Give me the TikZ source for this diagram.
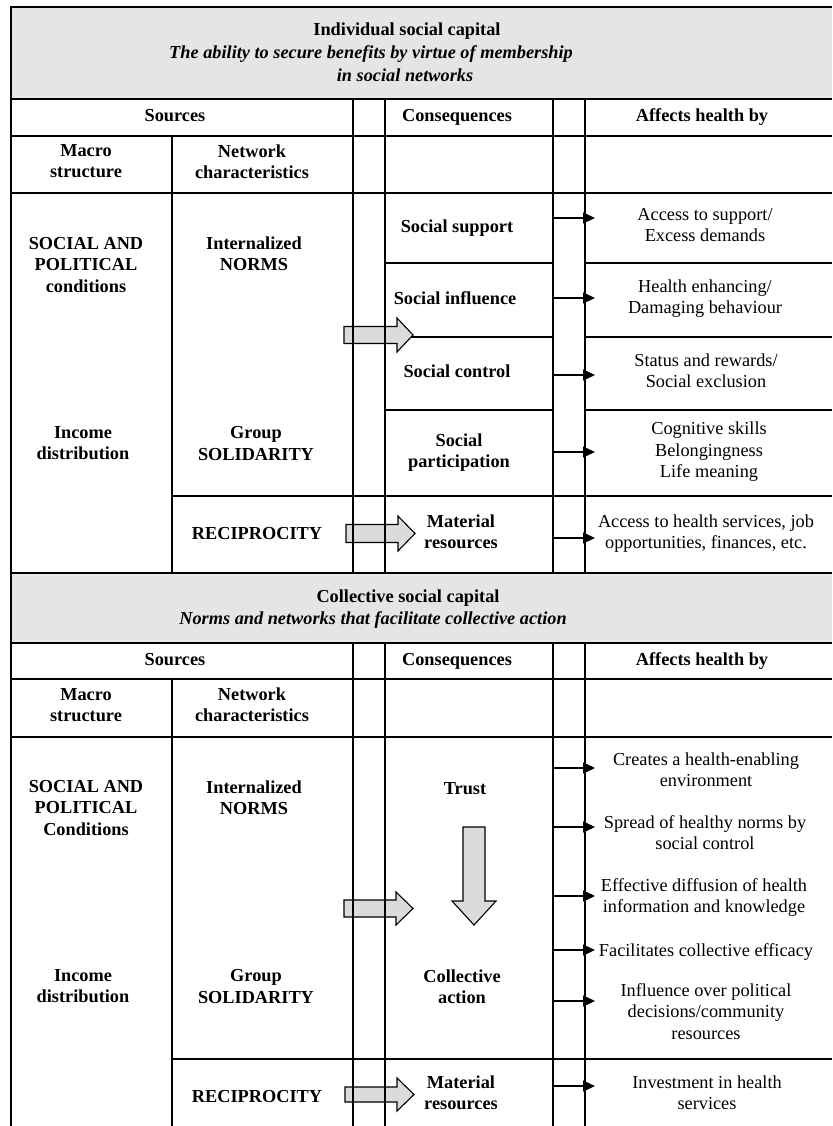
\documentclass[tikz,border=0pt]{standalone}
\usepackage{fontspec}
\setmainfont{Liberation Serif}
\usetikzlibrary{arrows.meta}
\newcommand\figsz{\fontsize{18.3}{21.3}\selectfont}
\definecolor{hdr}{gray}{0.9}
\definecolor{arrfill}{gray}{0.86}
\begin{document}
\begin{tikzpicture}[x=1pt,y=-1pt,
  tl/.style={line width=2pt},
  txt/.style={inner sep=0pt, align=center, execute at begin node=\strut, execute at end node=\strut},
  bt/.style={txt, font=\figsz\bfseries},
  rt/.style={txt, font=\figsz},
  it/.style={txt, font=\figsz\bfseries\itshape},
  sarr/.style={line width=1.3pt, -{Triangle[length=12pt,width=11pt]}},
  barr/.style={draw=black, line width=1.1pt, fill=arrfill, line join=miter},
]
\useasboundingbox (0,0) rectangle (832,1126);
% gray header fills
\fill[hdr] (11,7) rectangle (832,99);
\fill[hdr] (11,573) rectangle (832,643);
% outer border
\draw[tl] (832,7) -- (11,7) -- (11,1126);
% full horizontal lines
\foreach \y in {99,136,193,573,643,679,737}
  \draw[tl] (11,\y) -- (832,\y);
% partial horizontal lines
\foreach \y in {263,337,410} {
  \draw[tl] (385,\y) -- (553,\y);
  \draw[tl] (585,\y) -- (832,\y);
}
\draw[tl] (172,496) -- (832,496);
\draw[tl] (172,1059) -- (832,1059);
% big gray arrows
\draw[barr] (344,326.5) -- (397,326.5) -- (397,318) -- (413,335) -- (397,352) -- (397,343.5) -- (344,343.5) -- cycle;
\draw[barr] (346,524.5) -- (398,524.5) -- (398,516) -- (415,533.5) -- (398,551) -- (398,542.5) -- (346,542.5) -- cycle;
\draw[barr] (344,900) -- (396,900) -- (396,892) -- (413,908.5) -- (396,925) -- (396,917) -- (344,917) -- cycle;
\draw[barr] (345,1087) -- (397,1087) -- (397,1078) -- (414,1094.5) -- (397,1111) -- (397,1102) -- (345,1102) -- cycle;
\draw[barr] (463,827) -- (485,827) -- (485,901) -- (496,901) -- (474,925) -- (452,901) -- (463,901) -- cycle;
% vertical lines
\draw[tl] (172,136) -- (172,573);
\draw[tl] (172,679) -- (172,1126);
\foreach \x in {353,385,553,585} {
  \draw[tl] (\x,99) -- (\x,573);
  \draw[tl] (\x,643) -- (\x,1126);
}
% small arrows
\foreach \y in {218,298,375,452,538,768,827,896,950,1001,1086}
  \draw[sarr] (553,\y) -- (595,\y);

% ---- Section 1 texts
\node[bt] (h1a) at (407,31) {Individual social capital};
\node[it] (h1b) at (371,54) {The ability to secure benefits by virtue of membership};
\node[it] (h1c) at (405,77) {in social networks};
\node[bt] (src1) at (175,117.5) {Sources};
\node[bt] (cons1) at (457,117.5) {Consequences};
\node[bt] (aff1) at (702,117.5) {Affects health by};
\node[bt] (mac1) at (86,164.5) {Macro\\structure};
\node[bt] (net1) at (252,164.5) {Network\\characteristics};
\node[bt] (spc1) at (86,268) {SOCIAL AND\\POLITICAL\\conditions};
\node[bt] (nrm1) at (254,257) {Internalized\\NORMS};
\node[bt] (inc1) at (83,446.5) {Income\\distribution};
\node[bt] (sol1) at (256,446.5) {Group\\SOLIDARITY};
\node[bt] (rec1) at (257,535) {RECIPROCITY};
\node[bt] (ss) at (457,228) {Social support};
\node[bt] (si) at (455,300) {Social influence};
\node[bt] (sc) at (457,373) {Social control};
\node[bt] (sp) at (459,453.5) {Social\\participation};
\node[bt] (mr1) at (461,535) {Material\\resources};
\node[rt] (a1) at (705,228) {Access to support/\\Excess demands};
\node[rt] (a2) at (705,300) {Health enhancing/\\Damaging behaviour};
\node[rt] (a3) at (706,373.5) {Status and rewards/\\Social exclusion};
\node[rt] (a4) at (709,453) {Cognitive skills\\Belongingness\\Life meaning};
\node[rt] (a5) at (706,534.5) {Access to health services, job\\opportunities, finances, etc.};

% ---- Section 2 texts
\node[bt] (h2a) at (408,598) {Collective social capital};
\node[it] (h2b) at (373,620) {Norms and networks that facilitate collective action};
\node[bt] (src2) at (175,661) {Sources};
\node[bt] (cons2) at (457,661) {Consequences};
\node[bt] (aff2) at (702,661) {Affects health by};
\node[bt] (mac2) at (86,708) {Macro\\structure};
\node[bt] (net2) at (252,708) {Network\\characteristics};
\node[bt] (spc2) at (86,811) {SOCIAL AND\\POLITICAL\\Conditions};
\node[bt] (nrm2) at (254,800.5) {Internalized\\NORMS};
\node[bt] (inc2) at (83,989.5) {Income\\distribution};
\node[bt] (sol2) at (256,989.5) {Group\\SOLIDARITY};
\node[bt] (rec2) at (257,1098) {RECIPROCITY};
\node[bt] (trust) at (465,790) {Trust};
\node[bt] (ca) at (462,989.5) {Collective\\action};
\node[bt] (mr2) at (461,1095.5) {Material\\resources};
\node[rt] (b1) at (706,772.5) {Creates a health-enabling\\environment};
\node[rt] (b2) at (705,835.5) {Spread of healthy norms by\\social control};
\node[rt] (b3) at (704,898.5) {Effective diffusion of health\\information and knowledge};
\node[rt] (b4) at (706,952) {Facilitates collective efficacy};
\node[rt] (b5) at (706,1014.5) {Influence over political\\decisions/community\\resources};
\node[rt] (b6) at (707,1095.5) {Investment in health\\services};
\end{tikzpicture}
\end{document}
